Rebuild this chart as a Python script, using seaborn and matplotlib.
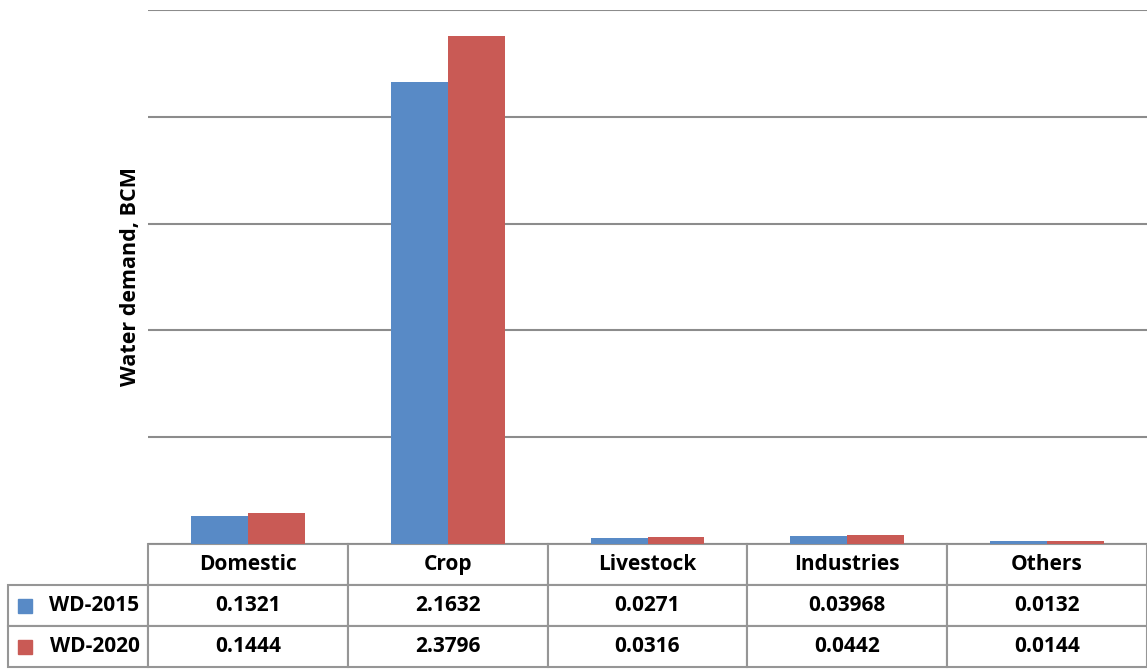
import matplotlib
matplotlib.use("Agg")
import matplotlib.pyplot as plt
import seaborn as sns
import pandas as pd

categories = ["Domestic", "Crop", "Livestock", "Industries", "Others"]
series = ["WD-2015", "WD-2020"]
wd_2015 = [0.1321, 2.1632, 0.0271, 0.03968, 0.0132]
wd_2020 = [0.1444, 2.3796, 0.0316, 0.0442, 0.0144]
colors = ["#588AC6", "#C95A55"]

sns.set_theme(style="white")
plt.rcParams["font.family"] = ["Open Sans", "DejaVu Sans"]

df = pd.DataFrame({
    "Category": categories * 2,
    "Series": [series[0]] * len(categories) + [series[1]] * len(categories),
    "Value": wd_2015 + wd_2020,
})

W, H = 1147, 669
fig = plt.figure(figsize=(W / 100, H / 100), dpi=100)
ax = fig.add_axes([148 / W, 125 / H, 999 / W, 534 / H])

sns.barplot(data=df, x="Category", y="Value", hue="Series", palette=colors,
            width=0.57, saturation=1, ax=ax, legend=False, order=categories,
            hue_order=series, linewidth=0)

ax.set_ylim(0, 2.5)
ax.set_xlim(-0.5, len(categories) - 0.5)
ax.set_yticks([0, 0.5, 1.0, 1.5, 2.0, 2.5])
ax.set_yticklabels([])
ax.tick_params(axis="y", length=0)
ax.tick_params(axis="x", length=0)
ax.set_xticklabels([])
ax.set_xlabel("")
ax.grid(axis="y", color="#8c8c8c", linewidth=1.5)
ax.set_axisbelow(True)
for s in ax.spines.values():
    s.set_visible(False)

ax.set_ylabel("Water demand, BCM", fontsize=15.5, fontweight="bold", color="black")
ax.yaxis.set_label_coords(-7 / 999, 0.5)

cell_text = [[s] + [str(v) for v in vals] for s, vals in zip(series, [wd_2015, wd_2020])]
tab_h = 123 / 534
x0 = (8 - 148) / 999
tbl = ax.table(cellText=cell_text, colLabels=[""] + categories,
               cellLoc="center",
               colWidths=[140 / 999] + [200 / 999] * len(categories),
               bbox=[x0, -tab_h, 1 - x0, tab_h])
tbl.auto_set_font_size(False)
tbl.set_fontsize(15)
for (r, c), cell in tbl.get_celld().items():
    cell.set_edgecolor("#969696")
    cell.set_linewidth(1.5)
    cell.get_text().set_fontweight("bold")
    cell.get_text().set_color("black")
    if c == 0:
        cell._loc = "right"
        cell.get_text().set_horizontalalignment("right")
        cell.PAD = 0.06
    if r == 0 and c == 0:
        cell.visible_edges = ""

# legend swatches in row label cells
row_h = tab_h / 3
for i, col in enumerate(colors):
    yc = -row_h * (1.5 + i)
    ax.plot([(25 - 148) / 999], [yc], marker="s", markersize=10.5, color=col,
            linestyle="none", transform=ax.transAxes, clip_on=False)

fig.savefig("out.png", dpi=100)
